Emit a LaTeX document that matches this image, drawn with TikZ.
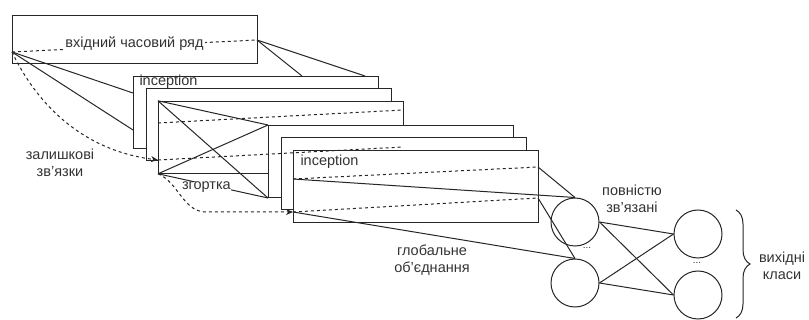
\documentclass[tikz,border=0pt]{standalone}
\usepackage{fontspec}
\setmainfont{Liberation Sans}
\usetikzlibrary{positioning, arrows.meta, decorations.pathreplacing}

\begin{document}
\begin{tikzpicture}[x=1pt, y=-1pt, line width=1pt, black!85,
      layer/.style={draw, fill=white, minimum width=245pt, minimum height=72pt,
                    inner sep=0pt, anchor=north west},
      lbl/.style={font=\fontsize{14.5}{17}\selectfont, text=black!80, align=center},
      unit/.style={circle, draw, minimum size=48pt, inner sep=0pt},
      data/.style={dash pattern=on 3pt off 3pt},
      res/.style={data, -{Stealth[length=7pt, width=6pt]}}]
    \useasboundingbox (0,0) rectangle (809,320);
    \node[draw, minimum width=245pt, minimum height=48pt, inner sep=0pt, anchor=north west] (inp) at (12,15) {};
    \coordinate (inl) at (12,52);
    \coordinate (inr) at (257,40);
    \coordinate (a1) at (133,93);
    \coordinate (a2) at (133,130);
    \coordinate (a3) at (302,76);
    \coordinate (a4) at (365,76);
    \draw (inl) -- (a1);
    \draw (inl) -- (a2);
    \draw (inr) -- (a3);
    \draw (inr) -- (a4);
    % inception blocks
    \foreach \n [count=\i from 0] in {ra,rb,rc}
      \node[layer] (\n) at ({133+12.5*\i},{76+12.4*\i}) {};
    \node[lbl, anchor=west, inner sep=0pt] (inc1) at (139,82) {inception};
    \foreach \n [count=\i from 0] in {rd,re,rf}
      \node[layer] (\n) at ({268+12.5*\i},{125+12.3*\i}) {};
    \node[lbl, anchor=west, inner sep=0pt] (inc2) at (300,162) {inception};
    \draw (rc.north west) -- (rd.north west);
    \draw (rc.north west) -- (rd.south west);
    \draw (rc.south west) -- (rd.north west);
    \draw (rc.south west) -- node[lbl, fill=white, inner sep=0.5pt, pos=0.44, yshift=-3pt] (conv) {згортка} (rd.south west);
    \coordinate (c2l) at (158,123);
    \coordinate (c2r) at (403,110);
    \coordinate (c3l) at (158,160);
    \coordinate (c3r) at (403,147);
    \coordinate (f1l) at (293,179);
    \coordinate (f1r) at (538,167);
    \coordinate (f2l) at (293,212);
    \coordinate (f2r) at (538,198);
    \draw[data] (c2l) -- (c2r);
    \draw[data] (f1l) -- (f1r);
    \draw[data] (f2l) -- (f2r);
    \draw[data] (c3l) -- (c3r);
    % residual connections
    \draw[res] (inl) .. controls (36,102) and (80,150) .. (c3l);
    \draw[res] (rc.south west) .. controls (178,182) and (183,211) .. (205,212) -- (f2l);
    \draw[data] (inl) -- node[lbl, fill=white, inner sep=1pt, yshift=2pt] (inlbl) {вхідний часовий ряд} (inr);
    \node[lbl] (reslbl) at (60,163) {залишкові\\зв'язки};
    % dense part
    \node[unit] (h1) at (575,222) {};
    \node[unit] (h2) at (575,283) {};
    \node[unit] (o1) at (698,234) {};
    \node[unit] (o2) at (698,295) {};
    \draw (f1l) -- (h1.north);
    \draw (f1r) -- (h1.north);
    \draw (f2l) -- (h2.north);
    \draw (f2r) -- (h2.north);
    \node[lbl] (gap) at (432,260) {глобальне\\об'єднання};
    \foreach \a in {h1,h2}
      \foreach \b in {o1,o2}
        \draw (\a.east) -- (\b.west);
    \node[lbl, font=\fontsize{10}{10}\selectfont] (hdots) at (587,248) {...};
    \node[lbl, font=\fontsize{10}{10}\selectfont] (odots) at (697,263) {...};
    \node[lbl] (fclbl) at (632,199) {повністю\\зв'язані};
    \draw[decorate, decoration={brace, amplitude=14pt}] (736,210) -- (736,318);
    \node[lbl] (outlbl) at (782,266) {вихідні\\класи};
  \end{tikzpicture}
\end{document}
